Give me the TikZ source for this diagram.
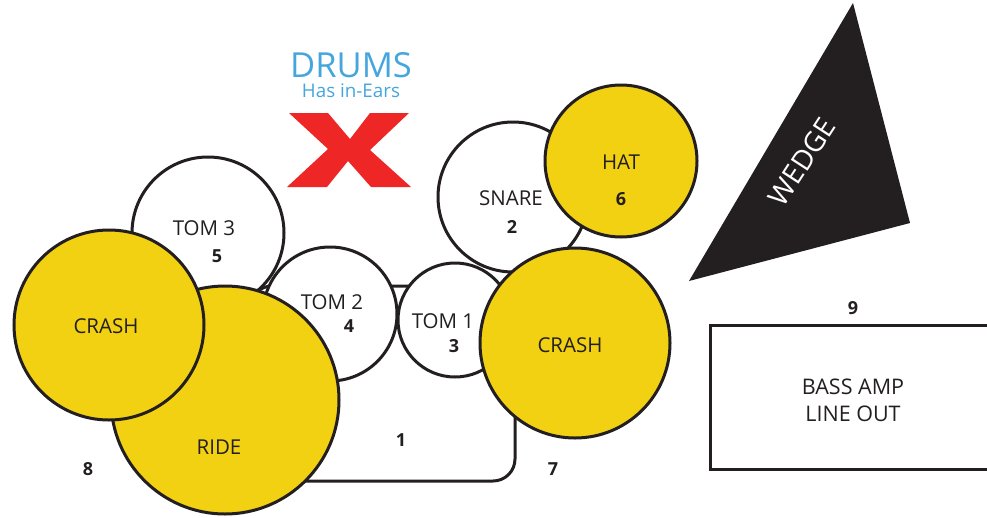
\documentclass[tikz,border=0pt]{standalone}
\usepackage{fontspec}
\setmainfont{Open Sans}
\definecolor{cym}{HTML}{F2D012}
\definecolor{ink}{HTML}{231F20}
\definecolor{bluet}{HTML}{45A5DD}
\definecolor{redx}{HTML}{EF2626}
\tikzset{
 kit/.style={draw=ink,line width=3pt,circle,inner sep=0pt,minimum size=#1,fill=white},
 cym/.style={draw=ink,line width=3pt,circle,inner sep=0pt,minimum size=#1,fill=cym},
 lab/.style={text=ink,font=\fontsize{20.5}{24}\selectfont,inner sep=0pt},
 num/.style={text=ink,font=\fontsize{18}{20}\selectfont\bfseries,inner sep=0pt},
}
\begin{document}
\begin{tikzpicture}[x=1pt,y=-1pt]
\useasboundingbox (0,0) rectangle (987,517);
% bass drum
\draw[ink,line width=3pt,fill=white,rounded corners=22pt] (250,286) -- (515,286) -- (515,481) -- (250,481) -- cycle;
\node[kit=150pt] (snare) at (513,197) {};
\node[kit=152pt] (tom3) at (208,233) {};
\node[kit=134pt] (tom2) at (330,314) {};
\node[kit=114pt] (tom1) at (455,320) {};
\node[cym=228pt] (ride) at (225,400) {};
\node[cym=190pt] (crashL) at (109,325) {};
\node[cym=190pt] (crashR) at (575,343) {};
\node[cym=152pt] (hat) at (621,161) {};
% wedge
\fill[ink] (853,3) -- (910,223) -- (689,281) -- cycle;
\node[text=white,font=\fontsize{28}{30}\selectfont,rotate=57,inner sep=0pt] (wedge) at (802,162) {WEDGE};
% amp
\draw[ink,line width=3pt] (710,325) rectangle (990,469);
\node[lab,align=center,font=\fontsize{21.5}{24}\selectfont] (amp) at (853,400) {BASS AMP\\[3pt]LINE OUT};
% drums sign
\node[text=bluet,font=\fontsize{34.5}{40}\selectfont,inner sep=0pt] (drums) at (351,65) {DRUMS};
\node[text=bluet,font=\fontsize{18.8}{22}\selectfont,inner sep=0pt] (ears) at (351,91) {Has in-Ears};
\fill[redx] (289,113) -- (328,113) -- (350,139) -- (370,113) -- (409,113) -- (370,150) -- (411,187) -- (371,187) -- (348,161) -- (327,187) -- (287,187) -- (328,149) -- cycle;
% labels
\node[lab] (t3) at (204,228) {TOM 3};
\node[lab] (t2) at (332,302) {TOM 2};
\node[lab] (t1) at (443,321) {TOM 1};
\node[lab] (sn) at (511,198) {SNARE};
\node[lab] (ha) at (621,162) {HAT};
\node[lab] (cl) at (106,326) {CRASH};
\node[lab] (cr) at (570,345) {CRASH};
\node[lab] (ri) at (219,447) {RIDE};
\node[num] (n1) at (401,440) {1};
\node[num] (n2) at (512,227) {2};
\node[num] (n3) at (454,346) {3};
\node[num] (n4) at (349,326) {4};
\node[num] (n5) at (217,256) {5};
\node[num] (n6) at (621,199) {6};
\node[num] (n7) at (553,469) {7};
\node[num] (n8) at (88,469) {8};
\node[num] (n9) at (853,308) {9};
\end{tikzpicture}
\end{document}
